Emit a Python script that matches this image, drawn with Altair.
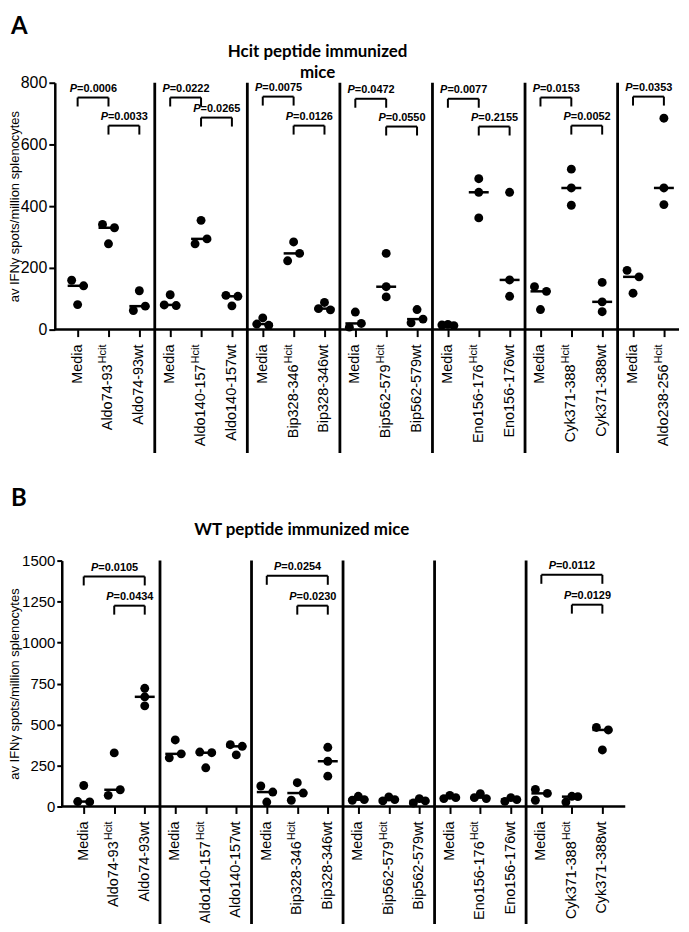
import altair as alt
import numpy as np
import pandas as pd

FONT = "Liberation Sans, Arial, sans-serif"
HEAD_FONT = "Lato"

# ---------------- Panel A: Hcit peptide immunized mice ----------------
A_labels = ["Media", "Aldo74-93^Hcit", "Aldo74-93wt",
            "Media", "Aldo140-157^Hcit", "Aldo140-157wt",
            "Media", "Bip328-346^Hcit", "Bip328-346wt",
            "Media", "Bip562-579^Hcit", "Bip562-579wt",
            "Media", "Eno156-176^Hcit", "Eno156-176wt",
            "Media", "Cyk371-388^Hcit", "Cyk371-388wt",
            "Media", "Aldo238-256^Hcit"]
A_values = [[160, 142, 81], [341, 330, 278], [126, 62, 76],
            [113, 80, 78], [354, 278, 294], [111, 108, 77],
            [18, 38, 14], [284, 223, 247], [68, 88, 64],
            [57, 8, 20], [247, 139, 106], [65, 22, 34],
            [15, 17, 13], [489, 445, 362], [445, 161, 108],
            [139, 124, 65], [520, 459, 403], [153, 90, 58],
            [192, 171, 118], [685, 459, 405]]
A_br_from = [0, 1, 3, 4, 6, 7, 9, 10, 12, 13, 15, 16, 18]
A_br_to = [1, 2, 4, 5, 7, 8, 10, 11, 13, 14, 16, 17, 19]
A_br_p = ["0.0006", "0.0033", "0.0222", "0.0265", "0.0075", "0.0126", "0.0472",
          "0.0550", "0.0077", "0.2155", "0.0153", "0.0052", "0.0353"]
A_br_y = [752, 661, 752, 687, 755, 661, 748, 658, 748, 658, 752, 661, 755]
A_yticks = [0, 200, 400, 600, 800]

# ---------------- Panel B: WT peptide immunized mice ----------------
B_labels = ["Media", "Aldo74-93^Hcit", "Aldo74-93wt",
            "Media", "Aldo140-157^Hcit", "Aldo140-157wt",
            "Media", "Bip328-346^Hcit", "Bip328-346wt",
            "Media", "Bip562-579^Hcit", "Bip562-579wt",
            "Media", "Eno156-176^Hcit", "Eno156-176wt",
            "Media", "Cyk371-388^Hcit", "Cyk371-388wt"]
B_values = [[128, 30, 28], [327, 68, 102], [721, 669, 614],
            [406, 297, 321], [332, 328, 236], [377, 367, 315],
            [125, 88, 27], [145, 38, 82], [361, 276, 185],
            [38, 62, 42], [34, 58, 42], [21, 48, 34],
            [48, 68, 54], [54, 78, 48], [31, 54, 42],
            [104, 80, 38], [27, 62, 60], [482, 467, 345]]
B_br_from = [0, 1, 6, 7, 15, 16]
B_br_to = [2, 2, 8, 8, 17, 17]
B_br_p = ["0.0105", "0.0434", "0.0254", "0.0230", "0.0112", "0.0129"]
B_br_y = [1403, 1225, 1407, 1225, 1413, 1231]
B_yticks = [0, 250, 500, 750, 1000, 1250, 1500]

Y_TITLE = "av IFNγ spots/million splenocytes"


def dodge(vals, ppu, T=8.0, s=6.0):
    """Simple scatter dodge: points closer than T px vertically are spread sideways."""
    n = len(vals)
    order = sorted(range(n), key=lambda i: -vals[i])
    clusters, cur = [], [order[0]]
    for a, b in zip(order, order[1:]):
        if (vals[a] - vals[b]) * ppu < T:
            cur.append(b)
        else:
            clusters.append(cur)
            cur = [b]
    clusters.append(cur)
    off = [0.0] * n
    for c in clusters:
        if len(c) == 2:
            a, b = sorted(c)
            off[a], off[b] = -s, s
        elif len(c) == 3:
            span = (vals[c[0]] - vals[c[-1]]) * ppu
            if span < T:
                for k, i in enumerate(sorted(c)):
                    off[i] = (k - 1) * s
            else:
                for k, i in enumerate(c):
                    off[i] = -s if k % 2 == 0 else s
    return off


def text_at(txt, px, py, **kw):
    return alt.Chart(pd.DataFrame({"t": [txt]})).mark_text(**kw).encode(
        text="t:N", x=alt.value(px), y=alt.value(py))


def panel(labels, values, br_from, br_to, br_p, br_y, ymax, yticks,
          width, height, xdom, shift, letter, title_lines, title_x, ytitle_x,
          sep_len, ylab_size, ytick_size):
    ppu = height / ymax
    step = width / (xdom[1] - xdom[0])
    n = len(labels)
    # the y axis sits `shift` px to the right of the common left origin
    xmin = xdom[0] - shift / step
    xs = alt.Scale(domain=[xmin, xdom[1]], nice=False, zero=False)
    ys = alt.Scale(domain=[0, ymax], nice=False, zero=False)
    xax = alt.Axis(values=list(range(n)), labels=False, ticks=True, tickSize=7,
                   tickWidth=2, tickColor="black", domain=False, grid=False, title=None)
    yax = alt.Axis(values=yticks, format="d", title=Y_TITLE, titleFont=FONT,
                   titleFontSize=13, titleFontWeight="normal", titleColor="black",
                   titleX=ytitle_x, labelFont=FONT, labelFontSize=ylab_size,
                   labelColor="black", labelPadding=2, tickSize=ytick_size, tickWidth=2,
                   tickColor="black", domainColor="black", domainWidth=2.5, grid=False,
                   offset=-shift)

    def X(f="x:Q"):
        return alt.X(f, scale=xs, axis=xax)

    def Y(f):
        return alt.Y(f, scale=ys, axis=yax)

    rows = []
    for i, vals in enumerate(values):
        for v, o in zip(vals, dodge(vals, ppu)):
            rows.append({"x": i + o / step, "v": v})
    pts = pd.DataFrame(rows)
    med = pd.DataFrame({"x": list(range(n)), "v": [float(np.median(v)) for v in values]})

    mains, sups = [], []
    for s in labels:
        if "^" in s:
            m, sp = s.split("^")
        else:
            m, sp = s, ""
        mains.append(m)
        sups.append(sp)
    lab = pd.DataFrame({"x": list(range(n)), "main": mains, "sup": sups})
    seps = pd.DataFrame({"x": [i - 0.5 for i, s in enumerate(labels) if s == "Media" and i > 0]})
    base = pd.DataFrame({"x": [xdom[0]], "x2": [xdom[1]], "v": [0]})

    drop = 9.0 / ppu
    segs = []
    for a, b, y in zip(br_from, br_to, br_y):
        segs.append({"x": a, "x2": b, "v": y, "v2": y})
        segs.append({"x": a, "x2": a, "v": y, "v2": y - drop})
        segs.append({"x": b, "x2": b, "v": y, "v2": y - drop})
    segs = pd.DataFrame(segs)
    ptxt = pd.DataFrame({"x": [(a + b) / 2 for a, b in zip(br_from, br_to)],
                         "v": br_y, "p": ["=" + p for p in br_p], "P": ["P"] * len(br_p)})

    pts_layer = alt.Chart(pts).mark_circle(size=80, color="black", opacity=1).encode(
        x=X(), y=Y("v:Q"))
    base_layer = alt.Chart(base).mark_rule(color="black", strokeWidth=2.5).encode(
        x=X(), x2="x2:Q", y=Y("v:Q"))
    med_layer = alt.Chart(med).mark_tick(orient="horizontal", size=20, thickness=2.5,
                                         color="black", opacity=1).encode(x=X(), y=Y("v:Q"))
    sep_layer = alt.Chart(seps).mark_rule(color="black", strokeWidth=2.8).encode(
        x=X(), y=alt.value(0), y2=alt.value(sep_len))
    br_layer = alt.Chart(segs).mark_rule(color="black", strokeWidth=2).encode(
        x=X(), x2="x2:Q", y=Y("v:Q"), y2="v2:Q")
    p_it = alt.Chart(ptxt).mark_text(font=FONT, fontSize=11, fontWeight="bold",
                                     fontStyle="italic", align="right", baseline="middle",
                                     dx=-16, dy=-9, color="black").encode(
        x=X(), y=Y("v:Q"), text="P:N")
    p_val = alt.Chart(ptxt).mark_text(font=FONT, fontSize=11, fontWeight="bold",
                                      align="left", baseline="middle",
                                      dx=-16, dy=-9, color="black").encode(
        x=X(), y=Y("v:Q"), text="p:N")

    lab_plain = alt.Chart(lab[lab["sup"] == ""]).mark_text(
        font=FONT, fontSize=14.5, angle=270, align="right", baseline="middle",
        color="black").encode(x=X(), y=alt.value(height + 15), text="main:N")
    lab_main = alt.Chart(lab[lab["sup"] != ""]).mark_text(
        font=FONT, fontSize=14.5, angle=270, align="right", baseline="middle",
        dx=-20, color="black").encode(x=X(), y=alt.value(height + 15), text="main:N")
    lab_sup = alt.Chart(lab[lab["sup"] != ""]).mark_text(
        font=FONT, fontSize=11, angle=270, align="right", baseline="middle",
        dy=-5, color="black").encode(x=X(), y=alt.value(height + 15), text="sup:N")

    layers = [pts_layer, base_layer, med_layer, sep_layer, br_layer, p_it, p_val,
              lab_plain, lab_main, lab_sup]
    layers.append(text_at(letter[0], letter[1], letter[2], font=HEAD_FONT, fontSize=24,
                          fontWeight="bold", align="left", baseline="top", color="black"))
    for txt, py in title_lines:
        layers.append(text_at(txt, title_x, py, font=HEAD_FONT, fontSize=17,
                              fontWeight="bold", align="center", baseline="middle",
                              color="black"))
    return alt.layer(*layers).properties(width=width + shift, height=height)


chartA = panel(A_labels, A_values, A_br_from, A_br_to, A_br_p, A_br_y, 800, A_yticks,
               width=627, height=248, xdom=(-0.74, 19.49), shift=0,
               letter=("A", -44, -68),
               title_lines=[("Hcit peptide immunized", -31), ("mice", -10)],
               title_x=264, ytitle_x=-33, sep_len=372, ylab_size=16, ytick_size=6)
chartB = panel(B_labels, B_values, B_br_from, B_br_to, B_br_p, B_br_y, 1500, B_yticks,
               width=566, height=247, xdom=(-0.72, 17.75), shift=7,
               letter=("B", -44, -74),
               title_lines=[("WT peptide immunized mice", -31)],
               title_x=248, ytitle_x=-40, sep_len=365, ylab_size=15, ytick_size=5)

chart = alt.vconcat(chartA, chartB, spacing=32).properties(
    padding={"top": 5, "bottom": 0, "left": 0, "right": 0}).configure_view(strokeWidth=0)

chart.save("out.html", embed_options={"renderer": "svg", "actions": False})
